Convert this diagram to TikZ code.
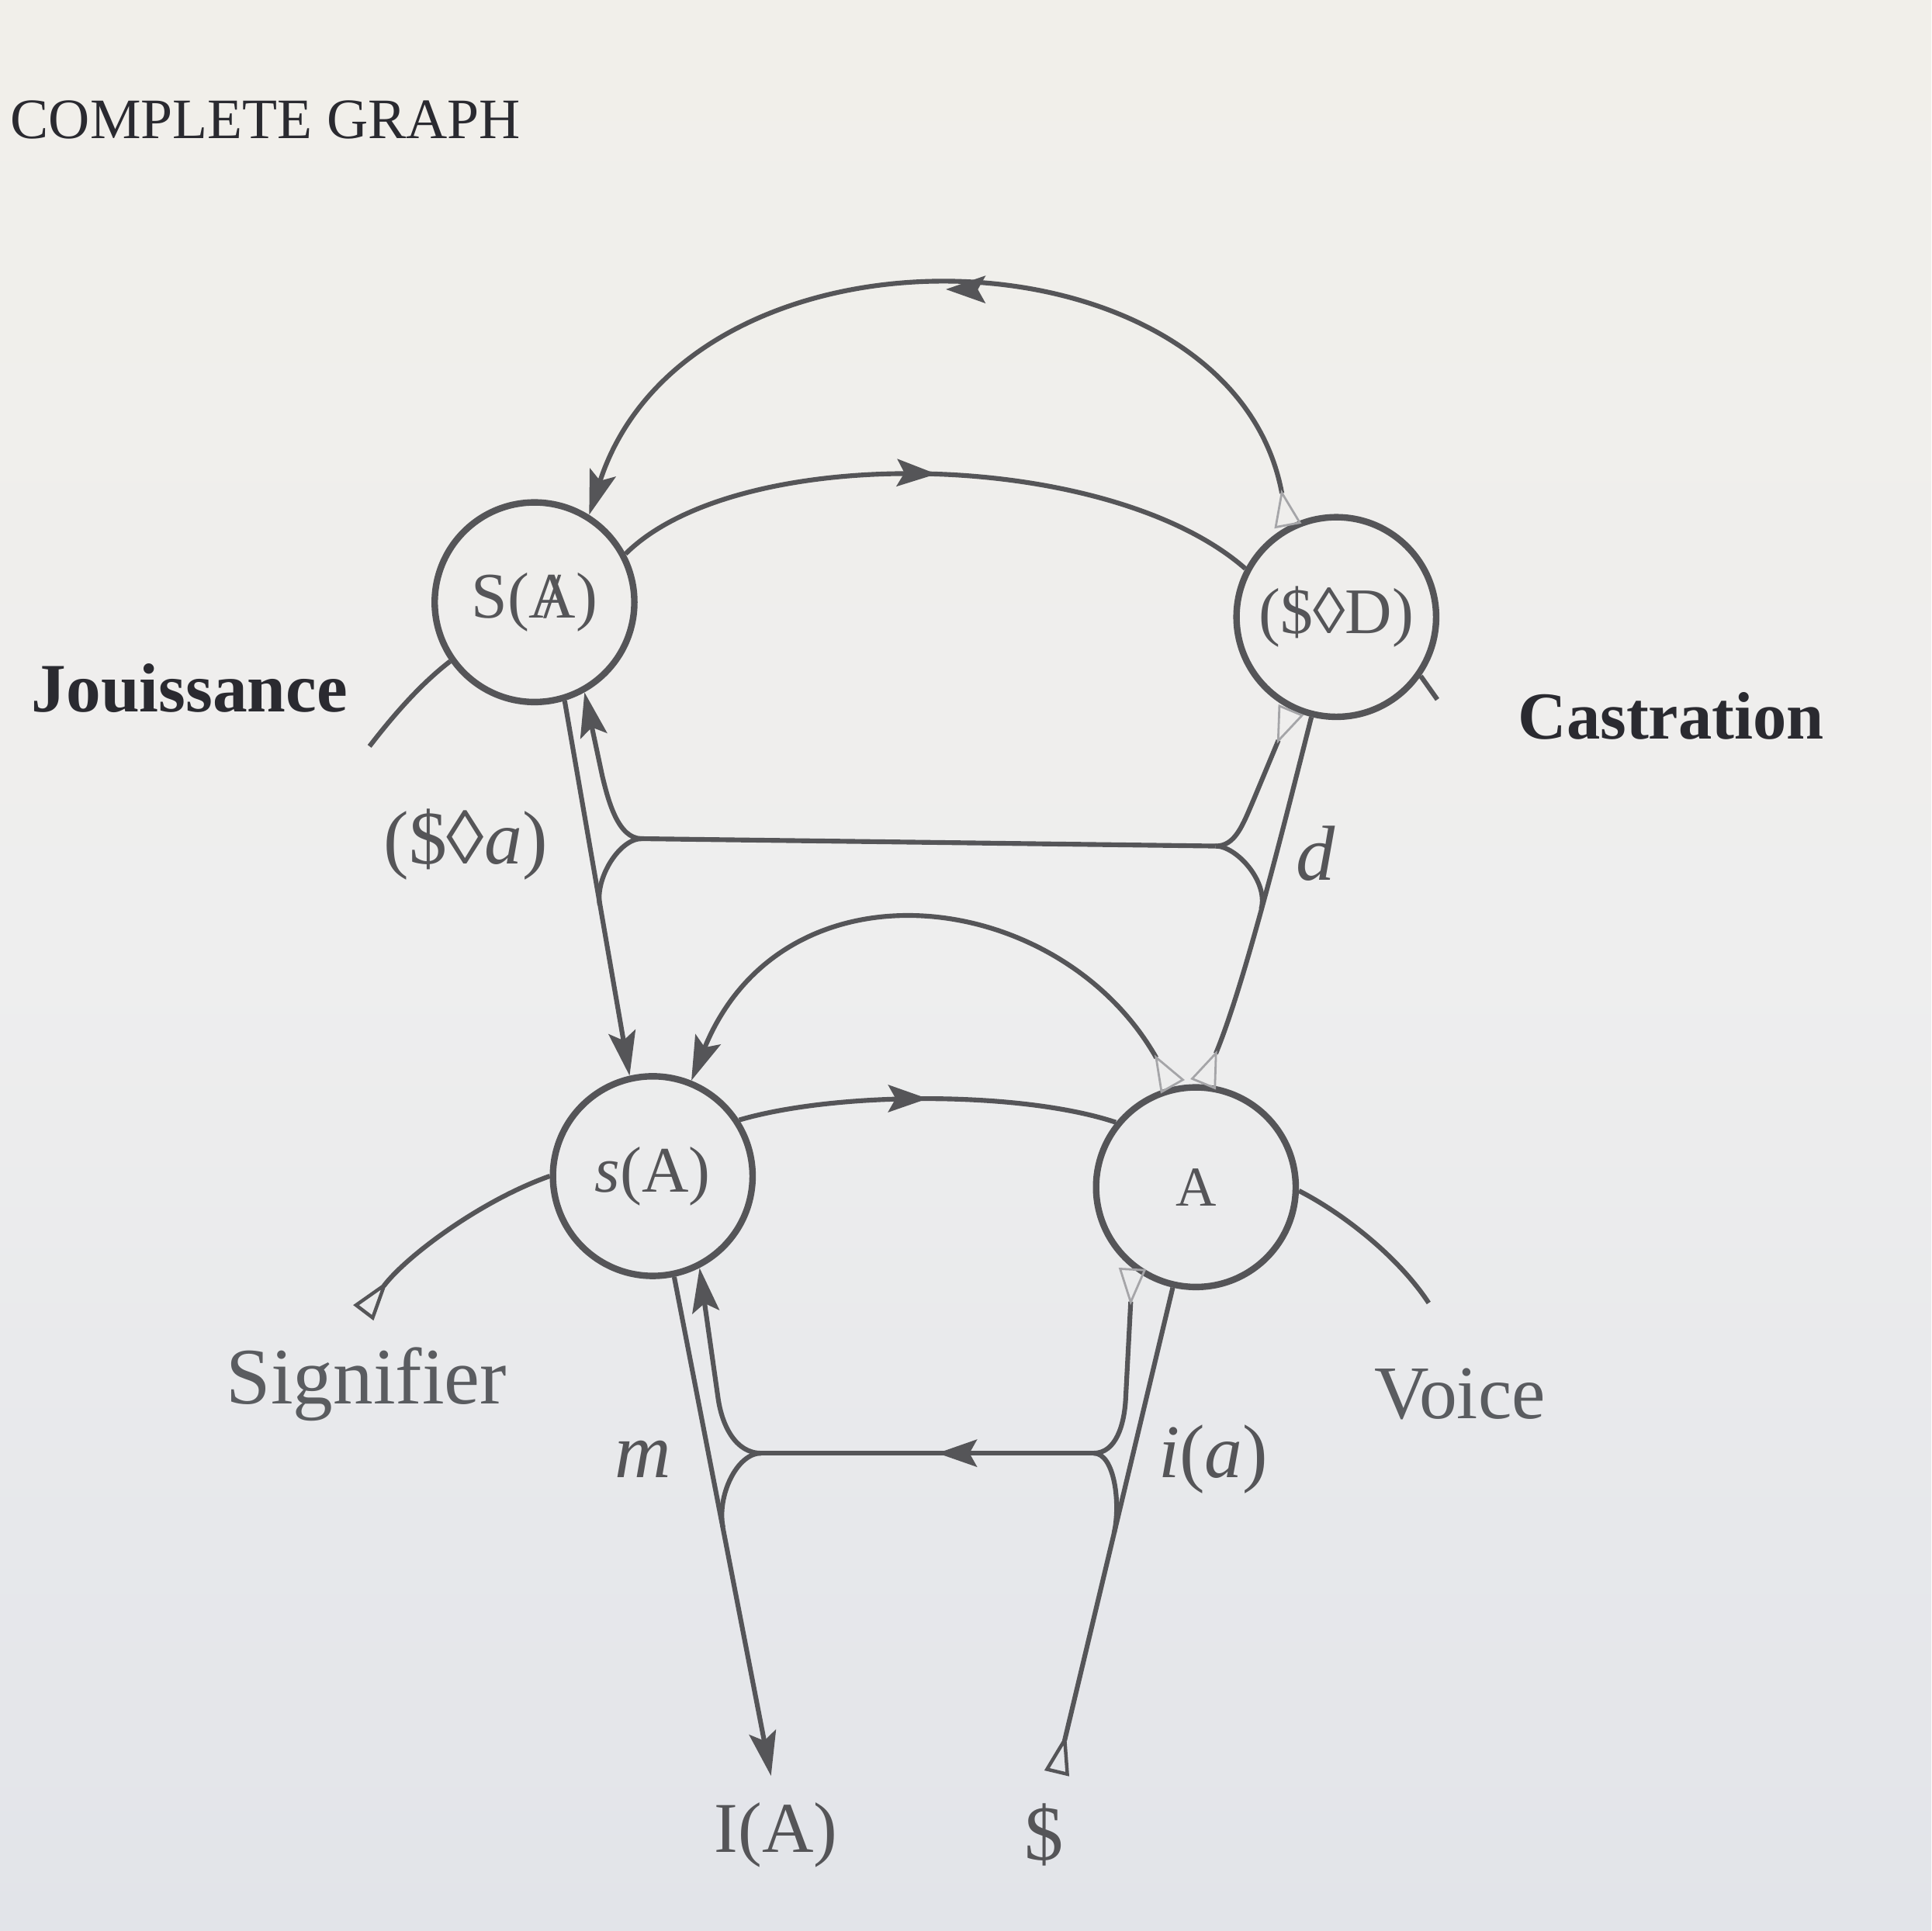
\documentclass[tikz,border=0pt]{standalone}
\usepackage{fontspec}
\setmainfont{Liberation Serif}
\usetikzlibrary{arrows.meta,decorations.markings}
\definecolor{ink}{RGB}{85,85,88}
\definecolor{darkink}{RGB}{42,42,48}
\definecolor{lightink}{RGB}{90,92,96}
\definecolor{faint}{RGB}{165,165,168}
\definecolor{bgtop}{RGB}{241,239,234}
\definecolor{bgmid}{RGB}{238,238,238}
\definecolor{bgbot}{RGB}{226,228,233}
\newcommand\barredA{\ooalign{A\cr\hidewidth/\hidewidth\cr}}
\newcommand\fs[1]{\fontsize{#1}{#1}\selectfont}
\tikzset{
  Hd/.tip={Stealth[length=0.36cm,width=0.22cm,inset=0.07cm]},
  Md/.tip={Stealth[length=0.32cm,width=0.22cm,inset=0.06cm]},
  OpenT/.tip={Triangle[open,reversed,length=0.33cm,width=0.2cm,line width=0.8pt]},
  FaintT/.tip={Triangle[open,reversed,length=0.3cm,width=0.22cm,line width=0.5pt,color=faint]},
}
\begin{document}
\begin{tikzpicture}[x=0.01cm,y=-0.01cm,
  vert/.style={circle, draw=ink, line width=1.5pt, minimum size=1.62cm, inner sep=0pt, text=ink},
  conn/.style={draw, color=ink, line width=1.1pt},
  endhead/.style={-Hd},
  midarrow/.style={postaction={decorate},decoration={markings,mark=at position #1 with {\arrow{Md}}}},
  opentail/.style={OpenT-},
  fainttail/.style={FaintT-},
  lbl/.style={inner sep=0pt, text=ink},
]
\shade[top color=bgtop, bottom color=bgbot, middle color=bgmid] (0,0) rectangle (1568,1568);
\useasboundingbox (0,0) rectangle (1568,1568);

% vertices
\node[vert] (SA) at (434,489) {\fs{15}S(\barredA)};
\node[vert] (SD) at (1085,501) {\fs{15}(\$◊D)};
\node[vert] (sA) at (530,955) {\fs{15}\textit{s}(A)};
\node[vert] (A) at (971,964) {\fs{13}A};

% junctions and free ends
\coordinate (J1) at (521,681);
\coordinate (J2) at (987,687);
\coordinate (J3) at (618,1180);
\coordinate (J4) at (888,1180);
\coordinate (Jend) at (300,606);
\coordinate (Cend) at (1167,568);
\coordinate (Send) at (295,1066);
\coordinate (Vend) at (1160,1058);
\coordinate (IAtip) at (626,1442);
\coordinate (Stail) at (858,1440);
\coordinate (M1) at (487,735);
\coordinate (M2) at (1024,738);
\coordinate (M3) at (587,1240);
\coordinate (M4) at (904.5,1245);

% upper chain
\draw[conn, arrows={FaintT-Hd}, midarrow=0.5] (SD.118) .. controls (1000,180) and (560,165) .. (SA.58);
\draw[conn, midarrow=0.5] (SA.28) .. controls (600,358) and (900,364) .. (SD.152);
\draw[conn] (Jend) .. controls (320,580) and (342,555) .. (SA.215);
\draw[conn] (SD.-35) -- (Cend);

% upper verticals
\draw[conn, endhead] (SA.-73) -- (sA.103);
\draw[conn, endhead] (J1) .. controls (502,681) and (494,651) .. (489,630) -- (SA.-61);
\draw[conn] (J1) .. controls (503,681) and (483,713) .. (M1);
\draw[conn] (J1) -- (J2);
\draw[conn, fainttail] (SD.-116) -- (1018,649) .. controls (1009,670) and (1003,687) .. (J2);
\draw[conn] (J2) .. controls (1004,687) and (1030,716) .. (M2);
\draw[conn, fainttail] (A.86) .. controls (1010,800) and (1040,680) .. (SD.-104);

% lower chain
\draw[conn, arrows={FaintT-Hd}] (A.103) .. controls (860,720) and (636,693) .. (sA.68);
\draw[conn, midarrow=0.5] (sA.33) .. controls (680,886) and (830,886) .. (A.141);
\draw[conn, opentail] (Send) .. controls (330,1020) and (390,975) .. (sA.180);
\draw[conn] (A.-2) .. controls (1090,985) and (1135,1020) .. (Vend);

% lower verticals
\draw[conn, endhead] (sA.-78) -- (IAtip);
\draw[conn, endhead] (J3) .. controls (597,1180) and (586,1157) .. (583,1135) -- (sA.-63);
\draw[conn] (J3) .. controls (598,1180) and (582,1215) .. (M3);
\draw[conn, midarrow=0.47] (J4) -- (J3);
\draw[conn, fainttail] (A.-128) -- (914,1135) .. controls (913,1157) and (906,1180) .. (J4);
\draw[conn, opentail] (Stail) -- (A.-103);
\draw[conn] (J4) .. controls (905,1180) and (910,1221) .. (M4);

% labels
\node[lbl, anchor=west, text=darkink] (title) at (8,97) {\fs{13.2}COMPLETE GRAPH};
\node[lbl, anchor=base west, text=darkink] (jou) at (25,578) {\fs{16}\bfseries Jouissance};
\node[lbl, anchor=base west, text=darkink] (cas) at (1232,600) {\fs{15.5}\bfseries Castration};
\node[lbl, anchor=base west, text=lightink] (sig) at (183,1140) {\fs{18.5}Signifier};
\node[lbl, anchor=base west, text=lightink] (voi) at (1115,1152) {\fs{17.5}Voice};
\node[lbl] (sda) at (378,686) {\fs{17.5}(\$◊\textit{a})};
\node[lbl] (dlab) at (1068,693) {\fs{18}\textit{d}};
\node[lbl] (mlab) at (522,1185) {\fs{18}\textit{m}};
\node[lbl] (ialab) at (985,1185) {\fs{17.5}\textit{i}(\textit{a})};
\node[lbl] (IAlab) at (630,1490) {\fs{16.5}I(A)};
\node[lbl] (Slab) at (848,1490) {\fs{18}\$};
\end{tikzpicture}
\end{document}
